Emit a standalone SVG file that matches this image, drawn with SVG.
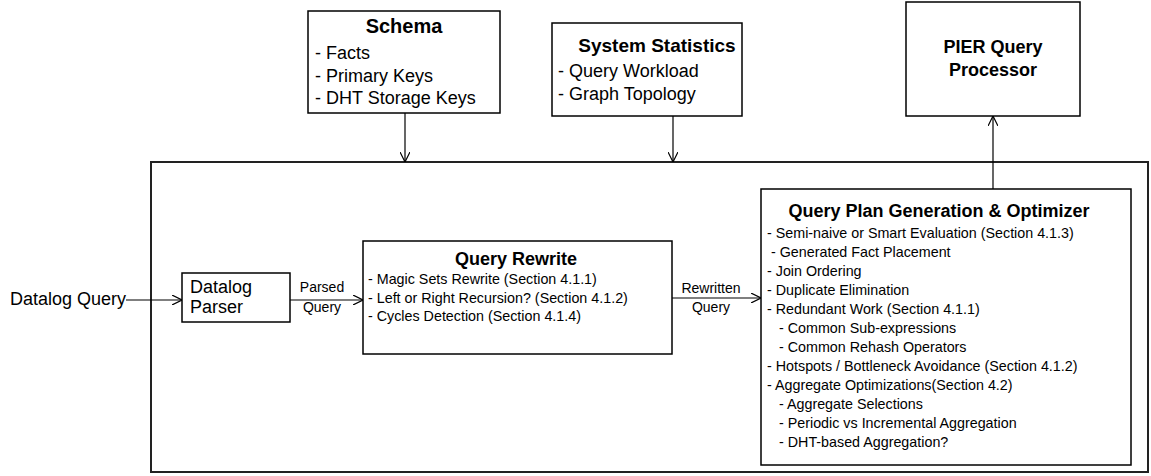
<svg xmlns="http://www.w3.org/2000/svg" width="1151" height="476" viewBox="0 0 1151 476">
<defs>
<marker id="arr" viewBox="0 0 10 10" refX="10" refY="5" markerWidth="10" markerHeight="10" markerUnits="userSpaceOnUse" orient="auto">
<path d="M0,0 L10,5 L0,10" fill="none" stroke="#000" stroke-width="1.2"/>
</marker>
<style>
text{font-family:"Liberation Sans",Arial,sans-serif;fill:#000}
.box{fill:#fff;stroke:#000;stroke-width:1.5}
.outer{fill:#fff;stroke:#222;stroke-width:2}
.t{font-weight:bold;font-size:18px;text-anchor:middle}
.big{font-size:18px}
.it{font-size:14.3px}
.lbl{font-size:14px;text-anchor:middle}
.c{fill:none;stroke:#000;stroke-width:1.2}
</style>
</defs>
<rect id="outer" class="outer" x="151" y="162" width="997" height="310"/>
<g id="schema">
<rect class="box" x="308" y="11" width="192" height="102"/>
<text class="t" x="404" y="33" style="font-size:20px">Schema</text>
<text class="big" x="315" y="59">- Facts</text>
<text class="big" x="315" y="82">- Primary Keys</text>
<text class="big" x="315" y="104">- DHT Storage Keys</text>
</g>
<g id="stats">
<rect class="box" x="552" y="23" width="190" height="93"/>
<text class="t" x="657" y="52" style="font-size:19px">System Statistics</text>
<text class="big" x="558" y="77">- Query Workload</text>
<text class="big" x="558" y="100">- Graph Topology</text>
</g>
<g id="pier">
<rect class="box" x="906" y="2" width="174" height="114"/>
<text class="t" x="993" y="53">PIER Query</text>
<text class="t" x="993" y="76">Processor</text>
</g>
<g id="input">
<text class="big" x="10" y="305">Datalog Query</text>
</g>
<g id="parser">
<rect class="box" x="182" y="273" width="108" height="49"/>
<text class="big" x="190" y="293">Datalog</text>
<text class="big" x="190" y="313">Parser</text>
</g>
<g id="rewrite">
<rect class="box" x="363" y="241" width="309" height="113"/>
<text class="t" x="516" y="265">Query Rewrite</text>
<text class="it" x="368" y="284">- Magic Sets Rewrite (Section 4.1.1)</text>
<text class="it" x="368" y="303">- Left or Right Recursion? (Section 4.1.2)</text>
<text class="it" x="368" y="321">- Cycles Detection (Section 4.1.4)</text>
</g>
<g id="plan">
<rect class="box" x="761" y="189" width="370" height="276"/>
<text class="t" x="939" y="217">Query Plan Generation &amp; Optimizer</text>
<text class="it" x="767" y="238">- Semi-naive or Smart Evaluation (Section 4.1.3)</text>
<text class="it" x="771" y="257">- Generated Fact Placement</text>
<text class="it" x="767" y="276">- Join Ordering</text>
<text class="it" x="767" y="295">- Duplicate Elimination</text>
<text class="it" x="767" y="314">- Redundant Work (Section 4.1.1)</text>
<text class="it" x="779" y="333">- Common Sub-expressions</text>
<text class="it" x="779" y="352">- Common Rehash Operators</text>
<text class="it" x="767" y="371">- Hotspots / Bottleneck Avoidance (Section 4.1.2)</text>
<text class="it" x="767" y="390">- Aggregate Optimizations(Section 4.2)</text>
<text class="it" x="779" y="409">- Aggregate Selections</text>
<text class="it" x="779" y="428">- Periodic vs Incremental Aggregation</text>
<text class="it" x="779" y="447">- DHT-based Aggregation?</text>
</g>
<g id="connectors">
<line class="c" x1="405" y1="113" x2="405" y2="162" marker-end="url(#arr)"/>
<line class="c" x1="673" y1="116" x2="673" y2="162" marker-end="url(#arr)"/>
<line class="c" x1="993" y1="189" x2="993" y2="116" marker-end="url(#arr)"/>
<line class="c" x1="126" y1="300" x2="182" y2="300" marker-end="url(#arr)"/>
<line class="c" x1="290" y1="300" x2="363" y2="300" marker-end="url(#arr)"/>
<line class="c" x1="672" y1="298" x2="761" y2="298" marker-end="url(#arr)"/>
<text class="lbl" x="322" y="292">Parsed</text>
<text class="lbl" x="322" y="312">Query</text>
<text class="lbl" x="711" y="293">Rewritten</text>
<text class="lbl" x="711" y="312">Query</text>
</g>
</svg>
